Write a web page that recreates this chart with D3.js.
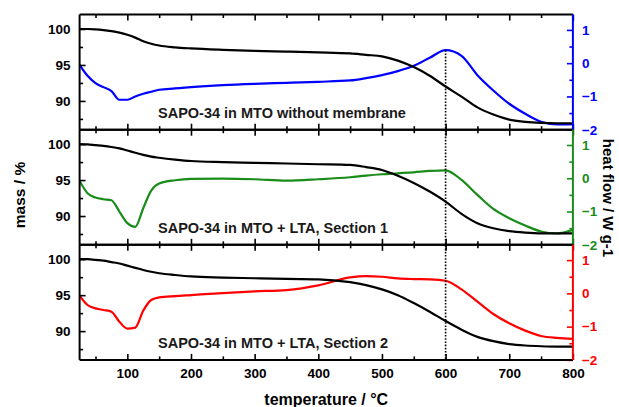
<!DOCTYPE html>
<html>
<head>
<meta charset="utf-8">
<script src="https://cdn.jsdelivr.net/npm/d3@7"></script>
<style>
  html, body { margin: 0; padding: 0; background: #fff; }
  svg { display: block; font-family: "Liberation Sans", Arial, sans-serif; }
  text { font-weight: bold; }
</style>
</head>
<body>
<svg id="chart" width="619" height="407"></svg>
<script>
// ---- data ----
const temperature = [25, 37.5, 50, 62.5, 75, 87.5, 100, 112.5, 125, 137.5, 150, 175, 200, 250, 300, 350, 400, 450, 475, 500, 525, 550, 575, 600, 625, 650, 675, 700, 725, 750, 775, 800];

const massNoMembrane = [100, 100, 99.95, 99.85, 99.7, 99.5, 99.2, 98.8, 98.3, 97.95, 97.7, 97.45, 97.3, 97.1, 96.95, 96.85, 96.75, 96.6, 96.4, 96.2, 95.6, 94.7, 93.5, 92.0, 90.6, 89.1, 88.1, 87.4, 87.1, 86.95, 86.9, 86.9];
const heatNoMembrane = [-0.05, -0.38, -0.6, -0.72, -0.84, -1.1, -1.1, -1.0, -0.92, -0.86, -0.8, -0.76, -0.72, -0.66, -0.62, -0.59, -0.56, -0.52, -0.45, -0.36, -0.24, -0.08, 0.16, 0.39, 0.22, -0.36, -0.82, -1.22, -1.52, -1.76, -1.84, -1.83];

const massSection1 = [100, 99.95, 99.85, 99.75, 99.6, 99.4, 99.1, 98.8, 98.5, 98.25, 98.1, 97.85, 97.65, 97.5, 97.4, 97.3, 97.2, 97.1, 96.8, 96.4, 95.6, 94.6, 93.4, 92.0, 90.3, 89.0, 88.3, 87.9, 87.7, 87.6, 87.6, 87.6];
const heatSection1 = [-0.08, -0.45, -0.58, -0.63, -0.66, -1.0, -1.35, -1.46, -0.9, -0.37, -0.16, -0.06, -0.02, -0.01, -0.03, -0.07, -0.03, 0.03, 0.08, 0.12, 0.15, 0.18, 0.22, 0.24, -0.05, -0.5, -0.92, -1.2, -1.42, -1.6, -1.66, -1.55];

const massSection2 = [100, 100, 99.9, 99.8, 99.6, 99.4, 99.1, 98.8, 98.5, 98.25, 98.05, 97.8, 97.6, 97.45, 97.35, 97.25, 97.2, 96.8, 96.4, 95.8, 95.0, 93.9, 92.7, 91.4, 90.2, 89.2, 88.6, 88.2, 88.0, 87.9, 87.85, 87.85];
const heatSection2 = [-0.07, -0.35, -0.45, -0.5, -0.55, -0.85, -1.06, -1.03, -0.52, -0.2, -0.12, -0.08, -0.05, 0.01, 0.06, 0.1, 0.24, 0.48, 0.52, 0.5, 0.45, 0.43, 0.42, 0.38, 0.12, -0.25, -0.62, -0.9, -1.12, -1.28, -1.34, -1.37];

const panelLabels = ["SAPO-34 in MTO without membrane", "SAPO-34 in MTO + LTA, Section 1", "SAPO-34 in MTO + LTA, Section 2"];
const heatColors = ["#0000ff", "#1a8c1a", "#ff0000"];
const xTicks = [100, 200, 300, 400, 500, 600, 700, 800];
const xMinorTicks = [50, 150, 250, 350, 450, 550, 650, 750];
const massTicks = [90, 95, 100];
const massMinorTicks = [87.5, 92.5, 97.5];
const heatTicks = [-2, -1, 0, 1];
const heatMinorTicks = [-1.5, -0.5, 0.5];
const markerTemperature = 600;
const xTitle = "temperature / °C";
const leftTitle = "mass / %";
const rightTitle = "heat flow / W g-1";

// ---- layout ----
const svg = d3.select("#chart");
const plotLeft = 79.6, plotRight = 572.9, plotTop = 14.6, panelH = 115.1;
const x = d3.scaleLinear().domain([25, 800]).range([plotLeft, plotRight]);

const panels = [
  { mass: massNoMembrane, heat: heatNoMembrane },
  { mass: massSection1, heat: heatSection1 },
  { mass: massSection2, heat: heatSection2 }
];

const curve = d3.curveMonotoneX;
let markerTopY = null;

panels.forEach((p, i) => {
  const y0 = plotTop + i * panelH, y1 = y0 + panelH;
  const yMass = d3.scaleLinear().domain([86, 102]).range([y1, y0]);
  const yHeat = d3.scaleLinear().domain([-2, 1.46]).range([y1, y0]);
  const color = heatColors[i];
  const g = svg.append("g");

  const clipId = "clip" + i;
  svg.append("clipPath").attr("id", clipId)
    .append("rect").attr("x", plotLeft).attr("y", y0).attr("width", plotRight - plotLeft).attr("height", panelH);

  const plot = g.append("g").attr("clip-path", `url(#${clipId})`);

  plot.append("path")
    .datum(temperature.map((t, k) => [t, p.heat[k]]))
    .attr("fill", "none").attr("stroke", color).attr("stroke-width", 2.2)
    .attr("d", d3.line().x(d => x(d[0])).y(d => yHeat(d[1])).curve(curve));

  plot.append("path")
    .datum(temperature.map((t, k) => [t, p.mass[k]]))
    .attr("fill", "none").attr("stroke", "#000").attr("stroke-width", 2.2)
    .attr("d", d3.line().x(d => x(d[0])).y(d => yMass(d[1])).curve(curve));

  if (i === 0) {
    const k = temperature.indexOf(markerTemperature);
    markerTopY = yHeat(p.heat[k]);
  }

  const xb = d3.axisBottom(x).tickValues(xTicks).tickSize(-6).tickFormat(i === 2 ? d3.format("d") : () => "");
  const xbm = d3.axisBottom(x).tickValues(xMinorTicks).tickSize(-3.5).tickFormat(() => "");
  const xt = d3.axisTop(x).tickValues(xTicks).tickSize(-6).tickFormat(() => "");
  const xtm = d3.axisTop(x).tickValues(xMinorTicks).tickSize(-3.5).tickFormat(() => "");
  [[xb, y1], [xbm, y1], [xt, y0], [xtm, y0]].forEach(([ax, yy]) => {
    const a = g.append("g").attr("transform", `translate(0,${yy})`).call(ax);
    a.select(".domain").remove();
    a.selectAll(".tick line").attr("stroke", "#000").attr("stroke-width", 1.6);
    a.selectAll(".tick text").attr("font-size", 13.5).attr("fill", "#000").attr("dy", "1.15em");
  });

  const yl = d3.axisLeft(yMass).tickValues(massTicks).tickSize(-6).tickFormat(d3.format("d")).tickPadding(9);
  const ylm = d3.axisLeft(yMass).tickValues(massMinorTicks).tickSize(-3.5).tickFormat(() => "");
  [yl, ylm].forEach(ax => {
    const a = g.append("g").attr("transform", `translate(${plotLeft},0)`).call(ax);
    a.select(".domain").remove();
    a.selectAll(".tick line").attr("stroke", "#000").attr("stroke-width", 1.6);
    a.selectAll(".tick text").attr("font-size", 13.5).attr("fill", "#000");
  });

  const yr = d3.axisRight(yHeat).tickValues(heatTicks).tickSize(-6).tickFormat(d3.format("d")).tickPadding(9);
  const yrm = d3.axisRight(yHeat).tickValues(heatMinorTicks).tickSize(-3.5).tickFormat(() => "");
  [yr, yrm].forEach(ax => {
    const a = g.append("g").attr("transform", `translate(${plotRight},0)`).call(ax);
    a.select(".domain").remove();
    a.selectAll(".tick line").attr("stroke", color).attr("stroke-width", 1.6);
    a.selectAll(".tick text").attr("font-size", 13.5).attr("fill", color);
  });

  g.append("line").attr("x1", plotLeft).attr("x2", plotRight).attr("y1", y0).attr("y2", y0).attr("stroke", "#000").attr("stroke-width", 2);
  g.append("line").attr("x1", plotLeft).attr("x2", plotRight).attr("y1", y1).attr("y2", y1).attr("stroke", "#000").attr("stroke-width", 2);
  g.append("line").attr("x1", plotLeft).attr("x2", plotLeft).attr("y1", y0).attr("y2", y1).attr("stroke", "#000").attr("stroke-width", 2);
  g.append("line").attr("x1", plotRight).attr("x2", plotRight).attr("y1", y0).attr("y2", y1).attr("stroke", color).attr("stroke-width", 2);

  g.append("text").attr("x", 158).attr("y", y1 - 12).attr("font-size", 14.5).attr("fill", "#1a1a1a").text(panelLabels[i]);
});

svg.append("line")
  .attr("x1", x(markerTemperature)).attr("x2", x(markerTemperature))
  .attr("y1", markerTopY).attr("y2", plotTop + 3 * panelH)
  .attr("stroke", "#000").attr("stroke-width", 1.6).attr("stroke-dasharray", "1.6,1.6");

svg.append("text").attr("x", (plotLeft + plotRight) / 2).attr("y", 405).attr("text-anchor", "middle").attr("font-size", 16).text(xTitle);
svg.append("text").attr("transform", `translate(25,195) rotate(-90)`).attr("text-anchor", "middle").attr("font-size", 15.5).text(leftTitle);
svg.append("text").attr("transform", `translate(603,198) rotate(90)`).attr("text-anchor", "middle").attr("font-size", 15).text(rightTitle);
</script>
</body>
</html>
